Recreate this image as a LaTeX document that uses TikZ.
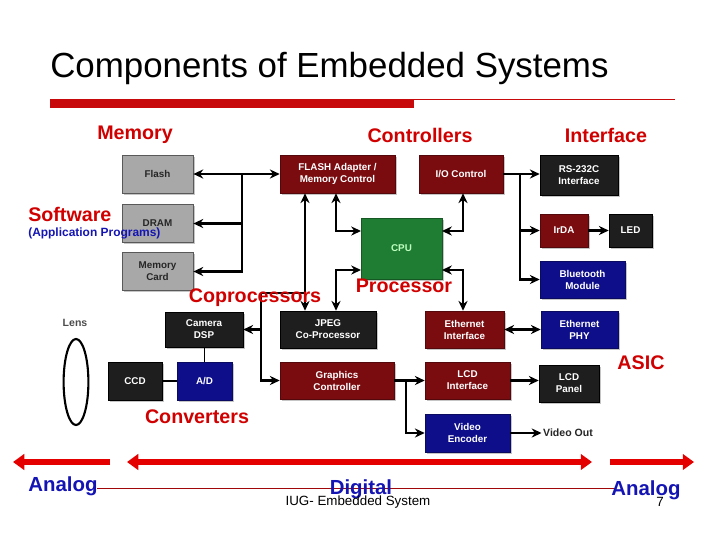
\documentclass[tikz,border=0pt]{standalone}
\usepackage{fontspec}
\setmainfont{Liberation Sans}
\usepackage{xcolor}
\usetikzlibrary{arrows.meta,positioning,shadows,shapes.geometric}
\definecolor{memgray}{HTML}{A8A8A8}
\definecolor{ctlred}{HTML}{7A0C10}
\definecolor{darkblk}{HTML}{1E1E1E}
\definecolor{asicblue}{HTML}{0E0E8A}
\definecolor{cpugreen}{HTML}{1F7D33}
\definecolor{hdred}{HTML}{D00000}
\definecolor{sigblue}{HTML}{1414B4}
\definecolor{barred}{HTML}{C8090B}
\tikzset{
  membox/.style={
    draw=gray!70!black,
    minimum width=1.78cm,
    minimum height=0.95cm,
    inner sep=1pt,
    align=center,
    font=\fontsize{7}{8.5}\selectfont\bfseries,
    text=black!85,
    fill=memgray,
    drop shadow={shadow xshift=1.2pt,shadow yshift=-1.2pt,fill=black!45}
  },
  ctlbox/.style={
    draw=ctlred!70!black,
    minimum width=2cm,
    minimum height=0.95cm,
    inner sep=1pt,
    align=center,
    font=\fontsize{7}{8.5}\selectfont\bfseries,
    text=white,
    fill=ctlred,
    drop shadow={shadow xshift=1.2pt,shadow yshift=-1.2pt,fill=black!45}
  },
  darkbox/.style={
    draw=black,
    minimum width=2cm,
    minimum height=0.95cm,
    inner sep=1pt,
    align=center,
    font=\fontsize{7}{8.5}\selectfont\bfseries,
    text=white,
    fill=darkblk,
    drop shadow={shadow xshift=1.2pt,shadow yshift=-1.2pt,fill=black!45}
  },
  asicbox/.style={
    draw=asicblue!70!black,
    minimum width=2cm,
    minimum height=0.95cm,
    inner sep=1pt,
    align=center,
    font=\fontsize{7}{8.5}\selectfont\bfseries,
    text=white,
    fill=asicblue,
    drop shadow={shadow xshift=1.2pt,shadow yshift=-1.2pt,fill=black!45}
  },
  cpubox/.style={
    draw=cpugreen!70!black,
    minimum width=2.025cm,
    minimum height=1.525cm,
    inner sep=1pt,
    align=center,
    font=\fontsize{7}{8.5}\selectfont\bfseries,
    text=green!25,
    fill=cpugreen,
    drop shadow={shadow xshift=1.2pt,shadow yshift=-1.2pt,fill=black!45}
  },
  plain/.style={inner sep=1pt, font=\fontsize{7.5}{9}\selectfont\bfseries, text=black!85},
  grouplabel/.style={inner sep=0pt, font=\fontsize{14}{16}\selectfont\bfseries, text=hdred},
  applabel/.style={inner sep=0pt, font=\fontsize{8.5}{10}\selectfont\bfseries, text=sigblue},
  siglabel/.style={inner sep=0pt, font=\fontsize{14.5}{16}\selectfont\bfseries, text=sigblue},
  bus/.style={line width=1.6pt, draw=black, >={Stealth[length=7pt,width=6.5pt]}},
  sigarrow/.style={line width=4.3pt, draw=red!90!black, >={Triangle[length=8pt,width=11pt]}}
}

\begin{document}
\begin{tikzpicture}[x=0.025cm, y=-0.025cm]
  \useasboundingbox (0,0) rectangle (720,540);

  \node[anchor=west, inner sep=0pt, font=\fontsize{24.8}{28}\selectfont] (title) at (50,68) {Components of Embedded Systems};
  \fill[barred] (50,99) rectangle (414,108);
  \coordinate (barA) at (414,99.3);
  \coordinate (barB) at (675,99.3);
  \draw[barred, line width=0.6pt] (barA) -- (barB);

  \node[membox] (flash) at (157.5,174) {Flash};
  \node[membox] (dram) at (157.5,223.5) {DRAM};
  \node[membox] (mcard) at (157.5,271.5) {Memory\\Card};

  \node[ctlbox, minimum width=2.875cm] (fadapt) at (337.5,174) {FLASH Adapter /\\Memory Control};
  \node[ctlbox, minimum width=2.1cm] (ioctl) at (461,174) {I/O Control};
  \node[cpubox] (cpu) at (401.5,248.5) {CPU};

  \node[darkbox, minimum width=1.95cm, minimum height=1.0cm] (rs232) at (579,175) {RS-232C\\Interface};
  \node[ctlbox, minimum width=1.2cm, minimum height=0.825cm] (irda) at (564,230.5) {IrDA};
  \node[darkbox, minimum width=1.075cm, minimum height=0.825cm] (led) at (630.5,230.5) {LED};
  \node[asicbox, minimum width=2.125cm, minimum height=0.925cm] (bt) at (582.5,279.5) {Bluetooth\\Module};

  \node[darkbox, minimum width=1.95cm, minimum height=0.875cm] (cam) at (204,329.5) {Camera\\DSP};
  \node[darkbox, minimum width=2.4cm, minimum height=0.925cm] (jpeg) at (328,329.5) {JPEG\\Co-Processor};
  \node[ctlbox, minimum width=1.975cm, minimum height=0.925cm] (ethif) at (464.5,329.5) {Ethernet\\Interface};
  \node[asicbox, minimum width=1.925cm, minimum height=0.925cm] (ethphy) at (579.5,329.5) {Ethernet\\PHY};

  \node[darkbox, minimum width=1.35cm] (ccd) at (135,381) {CCD};
  \node[asicbox, minimum width=1.375cm] (adc) at (204.5,381) {A/D};
  \node[ctlbox, minimum width=2.85cm, minimum height=0.925cm] (gfx) at (337,380.5) {Graphics\\Controller};
  \node[ctlbox, minimum width=2.125cm, minimum height=0.925cm] (lcdif) at (467.5,380.5) {LCD\\Interface};
  \node[darkbox, minimum width=1.5cm, minimum height=0.925cm] (lcdp) at (569,383.5) {LCD\\Panel};
  \node[asicbox, minimum width=2.125cm] (venc) at (467.5,433) {Video\\Encoder};
  \node[plain] (vout) at (568,433) {Video Out};

  \node[plain, text=black!70] (lenslbl) at (75,323) {Lens};
  \node[draw, ellipse, line width=1.5pt, minimum width=0.62cm, minimum height=2.15cm] (lens) at (76,382) {};

  \coordinate (mbus) at (242,174);
  \coordinate (cpbus) at (305,293);
  \coordinate (dspbus) at (261,293);
  \coordinate (lx) at (336,0);
  \coordinate (rx) at (463,0);
  \coordinate (cpuA) at (361,231);
  \coordinate (cpuB) at (361,270);
  \coordinate (cpuC) at (442,231);
  \coordinate (cpuD) at (442,270);
  \coordinate (ibus) at (520,174);
  \coordinate (gbus) at (406,380.5);

  \draw[bus,<->] (flash.east) -- (fadapt.west);
  \draw[bus,->] (mbus) |- (dram.east);
  \draw[bus,->] (mbus) |- (mcard.east);

  \draw[bus,<->] (fadapt.south -| cpbus) -- (jpeg.north -| cpbus);
  \draw[bus] (cpbus) -- (dspbus);
  \draw[bus,->] (dspbus) |- (gfx.west);
  \draw[bus,->] (dspbus |- cam.east) -- (cam.east);

  \draw[bus,<->] (fadapt.south -| lx) |- (cpuA);
  \draw[bus,<->] (jpeg.north -| lx) |- (cpuB);
  \draw[bus,<->] (ioctl.south -| rx) |- (cpuC);
  \draw[bus,<->] (ethif.north -| rx) |- (cpuD);

  \draw[bus,->] (ioctl.east) -- (ioctl.east -| rs232.west);
  \draw[bus,->] (ibus) |- (irda.west);
  \draw[bus,->] (ibus) |- (bt.west);
  \draw[bus,->] (irda) -- (led);
  \draw[bus,<->] (ethif) -- (ethphy);

  \draw[bus,->] (gfx.east) -- (lcdif.west);
  \draw[bus,->] (gbus) |- (venc.west);
  \draw[bus,->] (lcdif.east) -- (lcdif.east -| lcdp.west);
  \draw[bus,->] (venc.east) -- (venc.east -| vout.west);

  \draw[line width=1.2pt] (cam.south -| adc.north) -- (adc.north);
  \draw[line width=1.2pt] (ccd) -- (adc);

  \node[grouplabel] (lmem) at (135,135) {Memory};
  \node[grouplabel] (lctl) at (420,135) {Controllers};
  \node[grouplabel] (lif) at (606,135) {Interface};
  \node[grouplabel, anchor=west] (lsw) at (28,214) {Software};
  \node[applabel, anchor=west] (lapp) at (28,233) {(Application Programs)};
  \node[grouplabel] (lcop) at (255,298) {Coprocessors};
  \node[grouplabel] (lproc) at (404,286) {Processor};
  \node[grouplabel] (lasic) at (641,363) {ASIC};
  \node[grouplabel] (lconv) at (197,417) {Converters};

  \coordinate (aL1) at (13,462);
  \coordinate (aL2) at (110,462);
  \coordinate (dL) at (127,462);
  \coordinate (dR) at (592,462);
  \coordinate (aR1) at (610,462);
  \coordinate (aR2) at (694,462);
  \draw[sigarrow,->] (aL2) -- (aL1);
  \draw[sigarrow,<->] (dL) -- (dR);
  \draw[sigarrow,->] (aR1) -- (aR2);

  \coordinate (fl1) at (97,488);
  \coordinate (fl2) at (615,488);
  \draw[barred!80!black, line width=0.6pt] (fl1) -- (fl2);

  \node[siglabel] (an1) at (63,486) {Analog};
  \node[siglabel] (dig) at (361,489) {Digital};
  \node[siglabel] (an2) at (646,490) {Analog};
  \node[inner sep=0pt, font=\fontsize{9.5}{11}\selectfont] (foot) at (358,502) {IUG- Embedded System};
  \node[inner sep=0pt, font=\fontsize{9.5}{11}\selectfont] (pageno) at (660,502) {7};
\end{tikzpicture}
\end{document}
